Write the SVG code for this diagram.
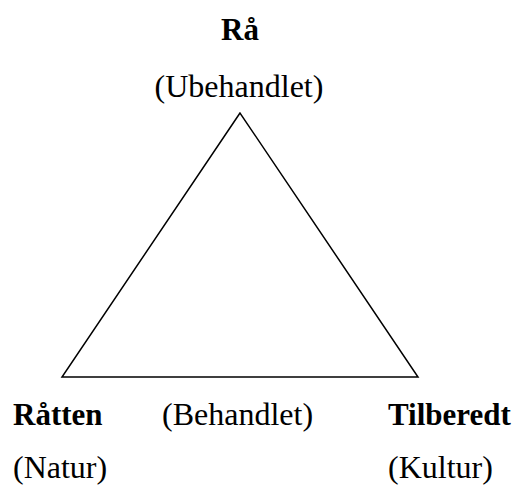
<svg xmlns="http://www.w3.org/2000/svg" width="516" height="487" viewBox="0 0 516 487">
<style>
text{font-family:"Liberation Serif","Times New Roman",serif;font-size:32px;fill:#000}
.b{font-weight:bold;font-size:31px}
</style>
<rect width="516" height="487" fill="#fff"/>
<g id="connectors">
<polygon points="240,113 62,377 418,377" fill="none" stroke="#000" stroke-width="1.5"/>
</g>
<g id="raa">
<text class="b" x="240" y="40" text-anchor="middle">Rå</text>
<text x="239" y="97" text-anchor="middle">(Ubehandlet)</text>
</g>
<g id="raatten">
<text class="b" x="13" y="425">Råtten</text>
<text x="13" y="478">(Natur)</text>
</g>
<g id="behandlet">
<text x="162" y="425">(Behandlet)</text>
</g>
<g id="tilberedt">
<text class="b" x="388" y="425">Tilberedt</text>
<text x="388" y="478">(Kultur)</text>
</g>
</svg>
